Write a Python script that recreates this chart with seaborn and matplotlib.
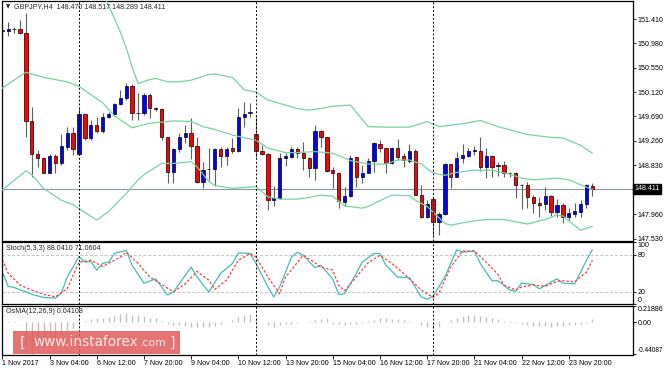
import numpy as np
import pandas as pd
import matplotlib
matplotlib.use("Agg")
import matplotlib.pyplot as plt
import matplotlib.transforms as mtransforms
from matplotlib.patches import Rectangle
import seaborn as sns

# GBPJPY H4 candles (bar 0 .. bar 100)
opens = [151.220, 151.195, 151.228, 151.240, 151.157, 149.609, 149.021, 148.950, 148.697, 148.991,
         148.862, 149.156, 149.398, 149.021, 149.727, 149.303, 149.533, 149.433, 149.686, 149.733,
         149.904, 150.010, 150.222, 149.751, 149.745, 150.069, 149.845, 149.816, 149.321, 148.715,
         149.109, 149.321, 149.392, 149.174, 148.538, 148.756, 148.756, 149.115, 148.997, 149.127,
         149.080, 149.674, 149.757, 149.380, 149.080, 149.021, 148.214, 148.250, 148.956, 148.979,
         149.109, 149.039, 148.950, 148.786, 149.439, 149.321, 148.744, 148.697, 148.185, 148.291,
         148.968, 148.626, 148.685, 148.903, 149.204, 149.127, 148.862, 149.139, 148.991, 148.903,
         149.086, 148.303, 147.908, 148.226, 147.832, 147.967, 148.850, 148.626, 148.950, 148.997,
         149.080, 149.080, 148.791, 148.991, 148.821, 148.833, 148.685, 148.685, 148.479, 148.479,
         148.261, 148.167, 148.144, 148.291, 148.008, 148.126, 147.908, 147.967, 148.008, 148.144,
         148.470]
highs = [151.380, 151.363, 151.275, 151.393, 151.510, 149.863, 149.097, 148.968, 149.027, 149.027,
         149.380, 149.498, 149.498, 149.833, 149.733, 149.627, 149.686, 149.745, 149.774, 149.921,
         150.157, 150.286, 150.263, 150.098, 150.098, 150.110, 149.863, 149.833, 149.333, 149.127,
         149.392, 149.539, 149.657, 149.333, 148.891, 149.127, 149.127, 149.156, 149.156, 149.303,
         149.845, 149.951, 149.921, 149.674, 149.186, 149.039, 148.467, 149.039, 149.039, 149.156,
         149.156, 149.245, 148.980, 149.539, 149.451, 149.333, 148.803, 148.715, 148.450, 149.009,
         148.980, 148.832, 148.950, 149.245, 149.274, 149.139, 149.156, 149.286, 149.050, 149.204,
         149.109, 148.479, 148.214, 148.273, 148.008, 148.862, 148.850, 149.068, 149.198, 149.127,
         149.168, 149.333, 149.139, 149.009, 148.891, 148.909, 148.715, 148.715, 148.491, 148.538,
         148.303, 148.273, 148.450, 148.303, 148.226, 148.155, 148.067, 148.155, 148.214, 148.497,
         148.517]
lows = [150.990, 151.110, 151.157, 151.150, 149.333, 148.626, 148.803, 148.690, 148.685, 148.685,
        148.832, 149.097, 149.009, 149.009, 149.274, 149.274, 149.392, 149.404, 149.657, 149.710,
        149.892, 149.980, 149.627, 149.627, 149.715, 149.657, 149.792, 149.274, 148.509, 148.509,
        149.068, 149.215, 148.938, 148.520, 148.420, 148.567, 148.467, 148.803, 148.832, 149.039,
        149.068, 149.498, 149.686, 148.968, 149.009, 148.038, 148.114, 148.226, 148.815, 148.950,
        148.950, 148.744, 148.615, 148.567, 149.156, 148.715, 148.420, 148.067, 148.114, 148.273,
        148.450, 148.509, 148.685, 148.715, 149.068, 148.685, 148.850, 148.921, 148.791, 148.874,
        148.303, 147.890, 147.890, 147.555, 147.596, 147.949, 148.420, 148.615, 148.862, 148.980,
        149.009, 148.733, 148.597, 148.626, 148.638, 148.626, 148.626, 148.244, 148.049, 148.067,
        147.991, 147.920, 148.038, 147.932, 147.920, 147.814, 147.861, 147.920, 147.920, 148.067,
        148.289]
closes = [151.200, 151.228, 151.225, 151.157, 149.609, 149.027, 148.950, 148.697, 148.991, 148.862,
          149.162, 149.398, 149.115, 149.727, 149.303, 149.533, 149.433, 149.686, 149.739, 149.904,
          150.010, 150.233, 149.745, 149.745, 150.075, 149.833, 149.816, 149.321, 148.715, 149.115,
          149.321, 149.392, 149.174, 148.538, 148.744, 148.756, 149.115, 148.997, 149.115, 149.080,
          149.674, 149.733, 149.757, 149.080, 149.021, 148.214, 148.250, 148.956, 148.991, 149.115,
          149.039, 148.950, 148.786, 149.439, 149.321, 148.733, 148.685, 148.197, 148.291, 148.962,
          148.626, 148.697, 148.903, 149.215, 149.127, 148.862, 149.127, 148.980, 148.921, 149.086,
          148.303, 147.908, 148.144, 147.832, 147.967, 148.850, 148.626, 148.950, 149.009, 149.086,
          149.098, 148.791, 148.991, 148.803, 148.821, 148.685, 148.685, 148.479, 148.479, 148.261,
          148.167, 148.131, 148.291, 148.008, 148.126, 147.908, 147.979, 148.020, 148.144, 148.479,
          148.411]

# Bollinger bands read at their turning points
bb_upper_x = [0, 4, 10, 15, 18, 19, 20, 21, 22, 23, 25, 26, 28, 30, 32, 35, 36, 39, 41, 43,
              45, 47, 50, 52, 54, 56, 59, 62, 65, 69, 72, 74, 78, 81, 84, 89, 93, 95, 98, 100]
bb_upper = [151.95, 152.05, 152.60, 152.30, 151.65, 151.42, 151.18, 150.90, 150.56, 150.27,
            150.34, 150.36, 150.30, 150.30, 150.33, 150.43, 150.44, 150.38, 150.16, 150.12,
            149.98, 149.92, 149.83, 149.80, 149.83, 149.87, 149.89, 149.51, 149.50, 149.50,
            149.60, 149.51, 149.56, 149.62, 149.51, 149.37, 149.32, 149.31, 149.18, 149.04]
bb_mid_x = [0, 4, 7, 11, 13, 17, 19, 22, 25, 29, 32, 34, 36, 39, 43, 45, 48, 50, 53, 56,
            59, 62, 65, 67, 69, 71, 73, 75, 77, 80, 83, 86, 88, 90, 94, 96, 99, 100]
bb_mid = [150.19, 150.47, 150.38, 150.30, 150.22, 149.93, 149.70, 149.49, 149.57, 149.61,
          149.60, 149.51, 149.46, 149.36, 149.27, 149.13, 149.05, 149.05, 149.07, 149.04,
          148.91, 148.85, 148.85, 148.92, 148.92, 148.85, 148.69, 148.65, 148.70, 148.74,
          148.74, 148.67, 148.60, 148.57, 148.60, 148.57, 148.44, 148.40]
bb_lower_x = [0, 4, 5, 7, 10, 12, 16, 18, 21, 23, 24, 27, 29, 32, 33, 35, 36, 39, 43, 45,
              47, 50, 52, 54, 56, 58, 61, 62, 66, 69, 70, 72, 75, 76, 79, 82, 85, 89, 92, 94,
              95, 98, 100]
bb_lower = [148.39, 148.73, 148.66, 148.42, 148.21, 148.13, 147.86, 148.01, 148.33, 148.57,
            148.66, 148.86, 148.86, 148.89, 148.80, 148.54, 148.47, 148.42, 148.45, 148.27,
            148.23, 148.23, 148.26, 148.30, 148.28, 148.11, 148.07, 148.10, 148.30, 148.29,
            148.21, 148.10, 147.80, 147.77, 147.83, 147.87, 147.87, 147.79, 147.87, 147.95,
            147.93, 147.68, 147.75]

# Stochastic (5,3,3)
stoch_main_x = [0, 1, 2, 4, 5, 7, 9, 10, 11, 12, 13, 14, 15, 16, 17, 18, 19, 21, 22, 24,
                26, 28, 29, 32, 33, 35, 37, 39, 40, 42, 43, 45, 46, 47, 49, 50, 51, 53, 54, 56,
                57, 58, 60, 61, 63, 64, 65, 67, 69, 71, 72, 73, 75, 77, 78, 80, 81, 83, 84, 86,
                87, 88, 90, 91, 93, 94, 95, 97, 99, 100]
stoch_main = [52, 29, 27, 20, 16, 11, 10, 18, 44, 60, 77, 68, 69, 55, 66, 68, 82, 87, 63, 34,
              41, 15, 20, 60, 44, 20, 50, 66, 83, 82, 66, 28, 12, 28, 76, 84, 79, 59, 63, 41,
              16, 17, 50, 68, 82, 82, 63, 44, 43, 12, 8, 13, 44, 88, 84, 86, 66, 38, 38, 23,
              21, 34, 32, 25, 36, 41, 34, 33, 71, 88.04]
stoch_sig_x = [0, 1, 3, 5, 7, 9, 11, 12, 13, 15, 17, 18, 20, 21, 23, 25, 26, 29, 31, 33,
               35, 36, 38, 40, 42, 43, 45, 47, 48, 51, 53, 54, 56, 57, 58, 60, 62, 64, 66, 68,
               69, 71, 73, 74, 76, 78, 80, 82, 84, 85, 87, 88, 90, 92, 94, 95, 97, 99, 100]
stoch_sig = [72, 50, 31, 23, 16, 12, 25, 47, 68, 71, 61, 66, 76, 84, 66, 44, 38, 20, 33, 53,
             39, 24, 39, 71, 82, 76, 44, 17, 44, 79, 67, 60, 55, 31, 22, 44, 67, 79, 66, 50,
             41, 23, 11, 18, 60, 86, 86, 68, 48, 31, 23, 28, 31, 29, 37, 38, 36, 52, 71.06]

# OsMA (12,26,9) histogram, one value per bar
osma = [0.02, 0.02, 0.01, 0.00, -0.30, -0.44, -0.40, -0.36, -0.30, -0.25,
        -0.18, -0.12, -0.08, 0.00, 0.02, 0.04, 0.05, 0.06, 0.07, 0.09,
        0.11, 0.13, 0.10, 0.09, 0.08, 0.06, 0.05, 0.02, -0.03, -0.04,
        -0.04, -0.05, -0.06, -0.07, -0.07, -0.06, -0.05, -0.02, 0.00, 0.03,
        0.07, 0.10, 0.11, 0.04, 0.00, -0.04, -0.06, -0.04, -0.03, -0.02,
        -0.01, 0.00, 0.02, 0.03, 0.04, 0.05, -0.02, -0.03, -0.04, -0.03,
        -0.02, -0.01, 0.01, 0.03, 0.05, 0.05, 0.04, 0.04, 0.03, 0.02,
        0.00, -0.04, -0.07, -0.10, -0.07, 0.00, 0.03, 0.06, 0.08, 0.09,
        0.09, 0.08, 0.07, 0.05, 0.04, 0.02, 0.01, -0.01, -0.03, -0.04,
        -0.05, -0.05, -0.05, -0.06, -0.05, -0.05, -0.04, -0.04, -0.03, -0.01,
        0.041]

tick_bars = [0, 8, 16, 24, 32, 40, 48, 56, 64, 72, 80, 88, 96]
tick_labels = ["1 Nov 2017", "3 Nov 04:00", "6 Nov 12:00", "7 Nov 20:00", "9 Nov 04:00",
               "10 Nov 12:00", "13 Nov 20:00", "15 Nov 04:00", "16 Nov 12:00", "17 Nov 20:00",
               "21 Nov 04:00", "22 Nov 12:00", "23 Nov 20:00"]
week_starts = [13, 43, 73]
price_ticks = [151.410, 150.980, 150.550, 150.120, 149.690, 149.260, 148.830, 147.960, 147.530]
last_price = 148.411

df = pd.DataFrame({"open": opens, "high": highs, "low": lows, "close": closes})
df["bar"] = np.arange(len(df))
df["up"] = df["close"] >= df["open"]
df["body_lo"] = df[["open", "close"]].min(axis=1)
df["body_h"] = (df["close"] - df["open"]).abs().clip(lower=0.004)

sns.set_style("white")
plt.rcParams["font.family"] = ["Liberation Sans", "DejaVu Sans"]
FS = 5.1

W, H = 664, 369
fig = plt.figure(figsize=(W / 100, H / 100), dpi=100)


def box(x0, y0, x1, y1):
    return [x0 / W, 1 - y1 / H, (x1 - x0) / W, (y1 - y0) / H]


ax_p = fig.add_axes(box(1.5, 1, 632.5, 241))
ax_s = fig.add_axes(box(1.5, 242.3, 632.5, 304.3))
ax_o = fig.add_axes(box(1.5, 306, 632.5, 354.5))
xlim = (-0.14, 106.8)

# price panel
ax_p.axhline(last_price, color="#8d99a3", lw=0.8, zorder=1)
ax_p.vlines(df["bar"], df["low"], df["high"], color="#606060", lw=0.8, zorder=2)
for is_up, col in [(True, "#0000ff"), (False, "#ff0000")]:
    d = df[df["up"] == is_up]
    ax_p.bar(d["bar"], d["body_h"], bottom=d["body_lo"], width=0.56, color=col,
             edgecolor="black", linewidth=0.5, zorder=3)
for xs, ys in [(bb_upper_x, bb_upper), (bb_mid_x, bb_mid), (bb_lower_x, bb_lower)]:
    sns.lineplot(x=xs, y=ys, ax=ax_p, color="#78d49c", lw=0.9, zorder=4)
ax_p.set_ylim(147.490, 151.728)
ax_p.set_yticks(price_ticks)
ax_p.set_yticklabels([f"{v:.3f}" for v in price_ticks])
trans = mtransforms.blended_transform_factory(ax_p.transAxes, ax_p.transData)
ax_p.text(1.003, last_price, f"{last_price:.3f}", transform=trans, ha="left", va="center",
          fontsize=FS, color="white",
          bbox=dict(facecolor="black", edgecolor="black", pad=1.2), clip_on=False)

# stochastic panel
ax_s.axhline(80, color="#c4c4c4", lw=0.7, ls=(0, (3, 2)))
ax_s.axhline(20, color="#c4c4c4", lw=0.7, ls=(0, (3, 2)))
sns.lineplot(x=stoch_main_x, y=stoch_main, ax=ax_s, color="#3fbfb6", lw=0.9)
sns.lineplot(x=stoch_sig_x, y=stoch_sig, ax=ax_s, color="#ff3b3b", lw=0.9)
ax_s.lines[-1].set_linestyle((0, (2, 1.5)))
ax_s.set_ylim(0, 100)
ax_s.set_yticks([100, 80, 20, 0])
ax_s.set_yticklabels(["100", "80", "20", "0"])

# OsMA panel
ax_o.vlines(df["bar"], 0, osma, color="#c2c2c2", lw=1.0)
ax_o.set_ylim(-0.44087, 0.21886)
ax_o.set_yticks([0.21886, 0.0, -0.44087])
ax_o.set_yticklabels(["0.21886", "0.00", "-0.44087"])

for ax in (ax_p, ax_s, ax_o):
    ax.set_xlim(*xlim)
    ax.set_xlabel("")
    ax.set_ylabel("")
    for b in week_starts:
        ax.axvline(b, color="black", lw=0.7, ls=(0, (2, 2)), zorder=5)
    ax.yaxis.tick_right()
    ax.tick_params(axis="y", direction="out", length=2.5, width=0.6, pad=1.0,
                   labelsize=FS, colors="black", left=False, right=True)
    for sp in ax.spines.values():
        sp.set_color("black")
        sp.set_linewidth(0.9)
    if ax is not ax_o:
        ax.set_xticks([])

for ax in (ax_s, ax_o):
    labels = ax.get_yticklabels()
    labels[0].set_va("top")
    labels[-1].set_va("bottom")
ax_o.get_yticklabels()[-1].set_fontsize(4.7)

ax_o.set_xticks(tick_bars)
ax_o.set_xticklabels(tick_labels, ha="left")
ax_o.tick_params(axis="x", direction="out", length=3, width=0.6, pad=0.8,
                 labelsize=FS, colors="black", bottom=True)

# panel captions
fig.text(5.5 / W, 1 - 6.7 / H, "\u25bc", fontsize=4, va="center", ha="left", family="DejaVu Sans")
fig.text(14 / W, 1 - 6.7 / H, "GBPJPY,H4  148.470 148.517 148.289 148.411",
         fontsize=FS, va="center", ha="left")
fig.text(5.7 / W, 1 - 249 / H, "Stoch(5,3,3) 88.0410 71.0604", fontsize=FS, va="center", ha="left")
fig.text(6 / W, 1 - 311.7 / H, "OsMA(12,26,9) 0.04108", fontsize=FS, va="center", ha="left")

# watermark
fig.add_artist(Rectangle((13 / W, 1 - 354 / H), 167 / W, 23 / H, transform=fig.transFigure,
                         facecolor="#e05b5b", edgecolor="none", alpha=0.85, zorder=10))
wm = dict(color="#fde8e8", va="center", ha="left", zorder=11, family="DejaVu Sans")
fig.text(20 / W, 1 - 343 / H, "[", fontsize=10, **wm)
fig.text(33 / W, 1 - 342 / H, "www.instaforex", fontsize=9.8, **wm)
fig.text(140 / W, 1 - 343.5 / H, ".com", fontsize=7.8, **wm)
fig.text(170 / W, 1 - 343 / H, "]", fontsize=10, **wm)

fig.savefig("out.png", dpi=100)
